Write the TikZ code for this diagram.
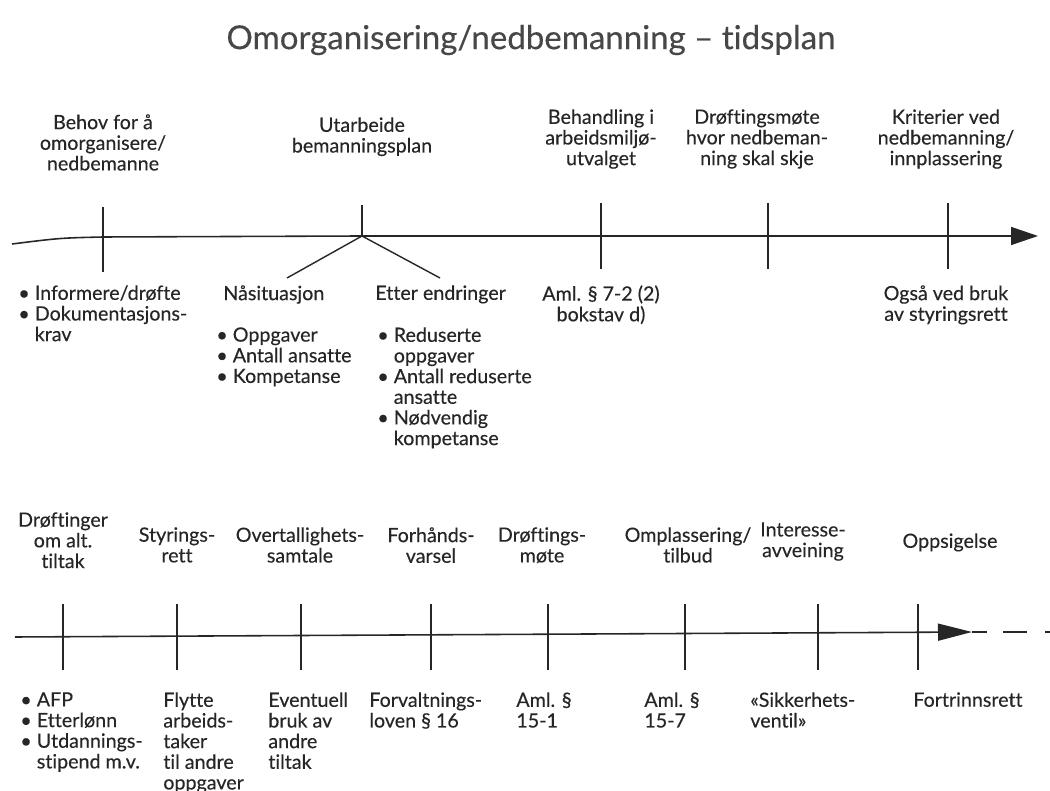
\documentclass[tikz,border=0pt]{standalone}
\usepackage{fontspec}
\setmainfont{Lato}[Ligatures={NoCommon,NoContextual}, FakeBold=0.3]
\usetikzlibrary{positioning,arrows.meta}
\definecolor{ink}{HTML}{262626}
\definecolor{tittel}{HTML}{474747}

\begin{document}
\begin{tikzpicture}[x=0.2mm,y=-0.2mm,
	lbl/.style={font=\fontsize{11.2}{11.75}\selectfont, text=ink, align=center, inner sep=0pt, anchor=north},
	lst/.style={font=\fontsize{11.2}{11.75}\selectfont, text=ink, align=left, inner sep=0pt, anchor=north west},
	akse/.style={draw=ink, line width=0.9pt},
	tikk/.style={draw=ink, line width=0.8pt}]
	\useasboundingbox (0,0) rectangle (1050,791);
	
	% Tittel
	\node[font=\fontsize{18.8}{22}\selectfont, text=tittel, inner sep=0pt] (tittel) at (531,40) {Omorganisering/nedbemanning -- tidsplan};
	
	% Øvre tidslinje
	\coordinate (a0) at (12,244);
	\coordinate (t1) at (103,237);
	\coordinate (t2) at (362,236);
	\coordinate (t3) at (601,236);
	\coordinate (t4) at (768,236);
	\coordinate (t5) at (948,236);
	\coordinate (a1) at (1038,236);
	\draw[akse, -{Triangle[length=5.4mm, width=3.6mm]}] (a0) .. controls (60,238) .. (t1) -- (t2) -- (t3) -- (t4) -- (t5) -- (a1);
	\draw[tikk] (103,207) -- (103,272);
	\foreach \x in {601,768,948}
		\draw[tikk] (\x,203) -- (\x,269);
	\coordinate (gren1) at (287,278);
	\coordinate (gren2) at (440,278);
	\draw[tikk] (362,205) -- (t2);
	\draw[tikk] (gren1) -- (t2) -- (gren2);
	
	% Tekst over øvre linje
	\node[lbl] (behov) at (103,114) {Behov for å\\omorganisere/\\nedbemanne};
	\node[lbl] (utarb) at (362,117) {Utarbeide\\bemanningsplan};
	\node[lbl] (behand) at (601,109) {Behandling i\\arbeidsmiljø-\\utvalget};
	\node[lbl] (droft) at (757,109) {Drøftingsmøte\\hvor nedbeman-\\ning skal skje};
	\node[lbl] (krit) at (946,109) {Kriterier ved\\nedbemanning/\\innplassering};
	
	% Tekst under øvre linje
	\node[lst] (info) at (18,285) {\textbullet\ Informere/drøfte\\\textbullet\ Dokumentasjons-\\\hphantom{\textbullet\ }krav};
	\node[lst] (naa) at (223,285) {Nåsituasjon};
	\node[lst] (naaliste) at (216,327) {\textbullet\ Oppgaver\\\textbullet\ Antall ansatte\\\textbullet\ Kompetanse};
	\node[lst] (etter) at (375,285) {Etter endringer};
	\node[lst] (etterliste) at (377,327) {\textbullet\ Reduserte\\\hphantom{\textbullet\ }oppgaver\\\textbullet\ Antall reduserte\\\hphantom{\textbullet\ }ansatte\\\textbullet\ Nødvendig\\\hphantom{\textbullet\ }kompetanse};
	\node[lbl] (aml72) at (601,285) {Aml. § 7-2 (2)\\bokstav d)};
	\node[lbl] (ogsaa) at (946,285) {Også ved bruk\\av styringsrett};
	
	% Nedre tidslinje
	\coordinate (b0) at (15,637);
	\coordinate (b9) at (972,632);
	\coordinate (b10) at (987,632);
	\coordinate (d1) at (1003,632);
	\coordinate (d2) at (1027,632);
	\coordinate (d3) at (1045,632);
	\coordinate (b11) at (1050,632);
	\draw[akse, -{Triangle[length=6.8mm, width=3.4mm]}] (b0) -- (b9);
	\draw[akse] (b9) -- (b10);
	\draw[akse] (d1) -- (d2);
	\draw[akse] (d3) -- (b11);
	\foreach \x in {63,177,301,431,548,685,818,918}
		\draw[tikk] (\x,604) -- (\x,670);
	
	% Tekst over nedre linje
	\node[lbl] (alt) at (63,512) {Drøftinger\\om alt.\\tiltak};
	\node[lbl] (styr) at (177,527) {Styrings-\\rett};
	\node[lbl] (overt) at (300,527) {Overtallighets-\\samtale};
	\node[lbl] (forh) at (431,527) {Forhånds-\\varsel};
	\node[lbl] (drm) at (542,527) {Drøftings-\\møte};
	\node[lbl] (ompl) at (688,527) {Omplassering/\\tilbud};
	\node[lbl] (inter) at (803,522) {Interesse-\\avveining};
	\node[lbl] (opps) at (950,533) {Oppsigelse};
	
	% Tekst under nedre linje
	\node[lst] (afp) at (20,692) {\textbullet\ AFP\\\textbullet\ Etterlønn\\\textbullet\ Utdannings-\\\hphantom{\textbullet\ }stipend m.v.};
	\node[lst] (flytte) at (163,692) {Flytte\\arbeids-\\taker\\til andre\\oppgaver};
	\node[lst] (event) at (268,692) {Eventuell\\bruk av\\andre\\tiltak};
	\node[lst] (forv) at (369,692) {Forvaltnings-\\loven § 16};
	\node[lst] (aml151) at (516,692) {Aml. §\\15-1};
	\node[lst] (aml157) at (644,692) {Aml. §\\15-7};
	\node[lst] (sikk) at (750,692) {«Sikkerhets-\\ventil»};
	\node[lst] (fortr) at (913,692) {Fortrinnsrett};
\end{tikzpicture}
\end{document}
